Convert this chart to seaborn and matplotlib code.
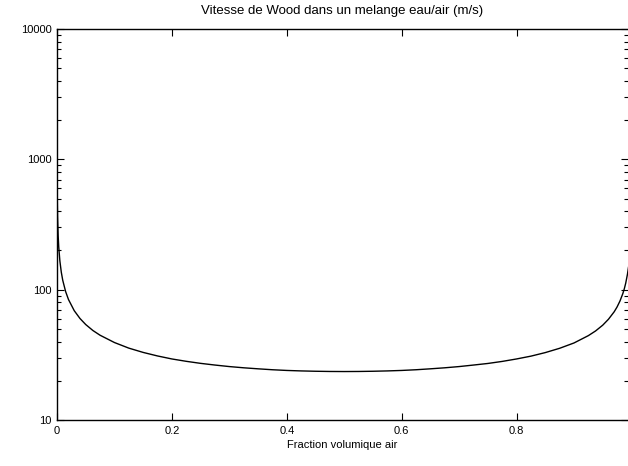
import pandas as pd
import matplotlib
matplotlib.use('Agg')
import matplotlib.pyplot as plt
import seaborn as sns

# Values (air volume fraction -> Wood speed, m/s)
fraction_air = [0.0, 0.0002, 0.0005, 0.001, 0.002, 0.003, 0.005, 0.0075, 0.01, 0.015,
                0.02, 0.03, 0.04, 0.05, 0.0625, 0.075, 0.1, 0.125, 0.15, 0.175,
                0.2, 0.225, 0.25, 0.275, 0.3, 0.325, 0.35, 0.375, 0.4, 0.425,
                0.45, 0.475, 0.5, 0.525, 0.55, 0.575, 0.6, 0.625, 0.65, 0.675,
                0.7, 0.725, 0.75, 0.775, 0.8, 0.825, 0.85, 0.875, 0.9, 0.925,
                0.9375, 0.95, 0.96, 0.97, 0.975, 0.98, 0.985, 0.9875, 0.99, 0.993,
                0.995]
vitesse = [1480, 726, 496, 361, 260, 213, 166, 136, 118, 96.7,
           84, 69, 60.1, 54, 48.6, 44.7, 39.3, 35.6, 33.0, 31.0,
           29.4, 28.2, 27.2, 26.4, 25.7, 25.15, 24.7, 24.3, 24.0, 23.8,
           23.66, 23.57, 23.54, 23.57, 23.66, 23.8, 24.0, 24.3, 24.7, 25.15,
           25.7, 26.4, 27.15, 28.15, 29.4, 30.9, 32.9, 35.5, 39.0, 44.4,
           48.2, 53.4, 59.3, 67.7, 73.7, 81.8, 93.3, 101.3, 112, 131,
           150]

title = "Vitesse de Wood dans un melange eau/air (m/s)"
xlabel = "Fraction volumique air"

df = pd.DataFrame({"x": fraction_air, "c": vitesse})

sns.set_style("ticks")
plt.rcParams['font.family'] = ['Liberation Sans', 'DejaVu Sans']
plt.rcParams['text.color'] = 'black'
plt.rcParams['axes.labelcolor'] = 'black'
plt.rcParams['xtick.color'] = 'black'
plt.rcParams['ytick.color'] = 'black'

fig = plt.figure(figsize=(6.28, 4.66), dpi=100)
ax = fig.add_axes([57 / 628, 46 / 466, 571 / 628, 391 / 466])

sns.lineplot(data=df, x="x", y="c", ax=ax, color="black", linewidth=1.0)

ax.set_yscale("log")
ax.set_ylim(10, 10000)
ax.set_xlim(0, 0.994)
ax.set_xticks([0, 0.2, 0.4, 0.6, 0.8])
ax.set_xticklabels(["0", "0.2", "0.4", "0.6", "0.8"])
ax.set_yticks([10, 100, 1000, 10000])
ax.set_yticklabels(["10", "100", "1000", "10000"])

ax.tick_params(which="both", direction="in", top=True, right=True,
               labelsize=8, color="black", labelcolor="black", width=0.8)
ax.tick_params(which="major", length=5, pad=4)
ax.tick_params(which="minor", length=3)
ax.spines["right"].set_visible(False)
for s in ["left", "top", "bottom"]:
    ax.spines[s].set_linewidth(1.0)
    ax.spines[s].set_color("black")

ax.set_xlabel(xlabel, fontsize=8, labelpad=3, color="black")
ax.set_ylabel("")
ax.set_title(title, fontsize=9.5, pad=11, color="black")

fig.savefig("out.png", dpi=100)
